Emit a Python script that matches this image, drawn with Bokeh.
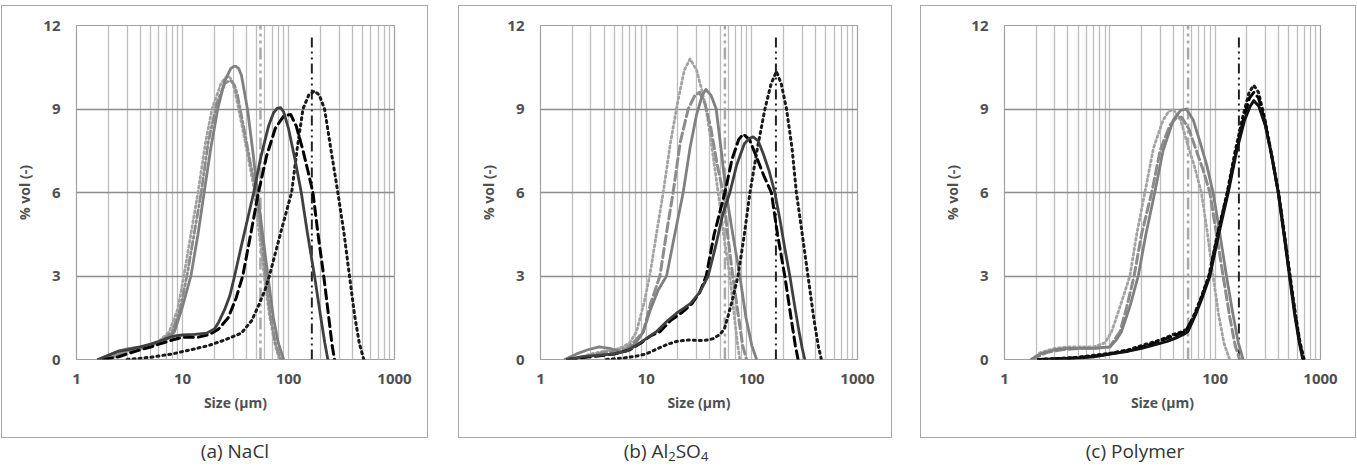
from bokeh.plotting import figure
from bokeh.models import FixedTicker, NumeralTickFormatter, Div, Spacer
from bokeh.layouts import row, column
from bokeh.embed import file_html
from bokeh.resources import INLINE

# ---------------- axes / labels ----------------
X_TICKS = [1, 10, 100, 1000]
Y_TICKS = [0, 3, 6, 9, 12]
X_GRID = [1, 2, 3, 4, 5, 6, 7, 8, 9, 10, 20, 30, 40, 50, 60, 70, 80, 90,
          100, 200, 300, 400, 500, 600, 700, 800, 900, 1000]
X_LABEL = "Size (µm)"
Y_LABEL = "% vol (-)"
SUB = '<sub style="font-size:13px;vertical-align:-3px;line-height:0;">%s</sub>'
CAPTIONS = ["(a) NaCl", "(b) Al" + SUB % "2" + "SO" + SUB % "4", "(c) Polymer"]

# ---------------- panel (a) NaCl ----------------
A_GRAY_SOLID_X = [1.6, 2, 2.5, 3, 4, 5, 6, 7, 8.4, 10, 12, 14, 16, 18.5, 21.5, 25, 28.5, 30.5, 32, 34, 36, 41, 46, 51, 57, 64, 72, 80, 90]
A_GRAY_SOLID_Y = [0, 0.15, 0.3, 0.38, 0.45, 0.52, 0.6, 0.7, 1.0, 1.9, 3.0, 4.5, 6.0, 7.6, 9.0, 10.0, 10.45, 10.53, 10.53, 10.45, 10.2, 9.0, 7.5, 6.0, 4.5, 3.0, 1.5, 0.6, 0]
A_GRAY_DOT_X = [2, 2.5, 3, 4, 5, 6, 7.5, 9, 10.3, 12, 14, 16.5, 19, 23, 25, 27, 29, 31, 36, 42, 48, 53, 59, 66, 74, 82]
A_GRAY_DOT_Y = [0, 0.15, 0.3, 0.4, 0.5, 0.65, 1.0, 1.8, 3.0, 4.5, 6.0, 7.8, 9.0, 9.9, 10.1, 10.2, 10.05, 9.7, 8.5, 7.2, 6.0, 4.5, 3.0, 1.6, 0.6, 0]
A_GRAY_DASH_X = [1.8, 2.5, 3, 4, 5, 6.5, 8, 9.5, 11, 13, 15, 17.5, 21, 25, 27, 29, 31, 33, 38, 44, 50, 55, 61, 68, 76, 85]
A_GRAY_DASH_Y = [0, 0.2, 0.3, 0.4, 0.5, 0.7, 1.0, 1.8, 3.0, 4.6, 6.0, 7.8, 9.2, 9.9, 10.0, 10.0, 9.85, 9.5, 8.3, 7.0, 6.0, 4.6, 3.0, 1.5, 0.5, 0]
A_DARK_SOLID_X = [1.6, 2, 2.5, 3, 4, 5, 6, 7, 8.5, 10, 13, 17, 20, 22, 25, 28, 31, 36, 42, 47, 55, 65, 72, 78, 84, 90, 100, 115, 132, 150, 176, 200, 220, 235]
A_DARK_SOLID_Y = [0, 0.15, 0.3, 0.35, 0.45, 0.55, 0.65, 0.75, 0.85, 0.88, 0.9, 0.95, 1.1, 1.35, 1.8, 2.3, 3.0, 4.1, 5.2, 6.0, 7.3, 8.4, 8.85, 9.02, 9.05, 8.9, 8.3, 7.2, 6.0, 4.6, 3.0, 1.6, 0.6, 0]
A_BLACK_DASH_X = [1.8, 2.5, 3, 4, 5, 6, 8, 10, 14, 18, 22, 27, 32, 37, 44, 52, 62, 75, 90, 105, 118, 135, 152, 170, 190, 215, 240, 258, 272]
A_BLACK_DASH_Y = [0, 0.1, 0.2, 0.35, 0.45, 0.55, 0.7, 0.8, 0.8, 0.9, 1.1, 1.5, 2.2, 3.0, 4.5, 6.0, 7.3, 8.3, 8.75, 8.8, 8.4, 7.6, 6.8, 6.0, 4.5, 3.0, 1.5, 0.5, 0]
A_BLACK_DOT_X = [3, 5, 8, 12, 17.5, 25, 36, 45, 53, 60, 66, 85, 107, 122, 137, 155, 176, 195, 219, 250, 292, 335, 376, 420, 465, 513]
A_BLACK_DOT_Y = [0, 0.08, 0.2, 0.35, 0.5, 0.7, 0.95, 1.4, 2.0, 2.5, 3.0, 4.6, 6.0, 7.7, 9.0, 9.5, 9.65, 9.5, 9.0, 7.6, 6.0, 4.5, 3.0, 1.6, 0.6, 0]
A_VLINE_X = [54.4, 166]
A_VLINE_TOP = [12, 11.7]

# ---------------- panel (b) Al2SO4 ----------------
B_GRAY_DOT_X = [2, 2.5, 3, 4, 5, 6, 7, 8.1, 9.5, 10.8, 12.5, 14.5, 17, 20, 23, 26, 30, 33, 37, 42, 48, 54, 62, 68, 73, 77]
B_GRAY_DOT_Y = [0, 0.1, 0.2, 0.3, 0.35, 0.45, 0.6, 1.0, 2.0, 3.0, 4.5, 6.0, 7.8, 9.3, 10.4, 10.8, 10.4, 9.8, 9.0, 7.6, 6.0, 4.5, 3.0, 1.6, 0.6, 0]
B_GRAY_DASH_X = [2, 3, 4, 5, 6.5, 8, 9.4, 11, 13.5, 15.5, 18, 21, 25, 29, 32, 36, 41, 47, 53.5, 59, 66, 75, 82, 89]
B_GRAY_DASH_Y = [0, 0.15, 0.25, 0.3, 0.4, 0.7, 1.0, 2.0, 3.0, 4.5, 6.0, 7.8, 9.0, 9.5, 9.6, 9.2, 8.3, 7.0, 6.0, 4.5, 3.0, 1.5, 0.5, 0]
B_GRAY_SOLID_X = [1.7, 2.2, 2.8, 3.6, 4.5, 5.5, 6.5, 8, 9.4, 11, 13, 15.6, 18, 22.4, 26, 30, 34, 36.7, 41, 46, 51, 57, 66, 77, 88, 100, 111]
B_GRAY_SOLID_Y = [0, 0.2, 0.35, 0.45, 0.4, 0.3, 0.3, 0.6, 1.0, 1.8, 2.5, 3.0, 4.2, 6.0, 7.6, 8.8, 9.5, 9.7, 9.5, 9.0, 7.6, 6.0, 4.5, 3.0, 1.5, 0.5, 0]
B_DARK_SOLID_X = [1.8, 2.5, 3.5, 5, 6.5, 8, 10, 12.5, 16, 20, 26, 32, 38.6, 45, 53, 62, 72, 85, 95, 103, 115, 128, 145, 165, 185, 205, 229, 255, 280, 300, 317]
B_DARK_SOLID_Y = [0, 0.1, 0.15, 0.2, 0.3, 0.5, 0.75, 1.0, 1.4, 1.7, 2.0, 2.4, 3.0, 4.0, 5.2, 6.0, 7.0, 7.75, 7.95, 8.0, 7.85, 7.4, 6.8, 6.0, 5.0, 4.0, 3.0, 1.9, 1.0, 0.4, 0]
B_BLACK_DASH_X = [1.8, 3, 5, 7, 9, 11, 13.5, 17, 22, 27, 32, 37, 44, 55.6, 65, 75, 83, 95, 110, 130, 153, 175, 205, 235, 258, 274]
B_BLACK_DASH_Y = [0, 0.1, 0.2, 0.35, 0.6, 0.85, 1.0, 1.4, 1.7, 2.0, 2.4, 3.0, 4.5, 6.0, 7.2, 7.9, 8.1, 7.9, 7.3, 6.6, 6.0, 4.5, 3.0, 1.5, 0.5, 0]
B_BLACK_DOT_X = [4.2, 6, 8, 10, 13, 16, 19.4, 25, 32, 38, 43, 50, 55, 60, 66, 74, 85, 96, 113, 133, 152, 171, 190, 213, 240, 264, 300, 340, 385, 425, 455]
B_BLACK_DOT_Y = [0, 0.05, 0.12, 0.2, 0.4, 0.55, 0.65, 0.7, 0.68, 0.7, 0.75, 0.9, 1.1, 1.6, 2.2, 3.0, 4.5, 6.0, 7.6, 9.0, 9.9, 10.35, 9.9, 9.0, 7.6, 6.0, 4.5, 3.0, 1.5, 0.5, 0]
B_VLINE_X = [55.6, 169]
B_VLINE_TOP = [12, 11.7]

# ---------------- panel (c) Polymer ----------------
C_GRAY_SOLID_X = [1.8, 2.2, 3, 4, 5, 7, 10, 11.5, 12.9, 15.5, 18.6, 22, 26.7, 32, 40, 47, 53.3, 62, 72, 83, 95.5, 110, 128, 148, 166, 184]
C_GRAY_SOLID_Y = [0, 0.2, 0.35, 0.4, 0.4, 0.4, 0.45, 0.7, 1.0, 1.9, 3.0, 4.5, 6.0, 7.5, 8.6, 8.95, 9.0, 8.6, 7.8, 7.0, 6.0, 4.6, 3.0, 1.6, 0.6, 0]
C_GRAY_DASH_X = [1.8, 2.5, 3.5, 5, 7, 10, 11, 12.5, 14.5, 17, 20, 25, 30, 37, 43, 48, 56, 65, 77, 89, 102, 119, 138, 155, 171]
C_GRAY_DASH_Y = [0, 0.25, 0.35, 0.4, 0.4, 0.45, 0.7, 1.0, 1.9, 3.0, 4.5, 6.0, 7.5, 8.4, 8.7, 8.7, 8.3, 7.6, 6.8, 6.0, 4.6, 3.0, 1.5, 0.5, 0]
C_GRAY_DOT_X = [1.8, 2.2, 3, 4, 5, 7, 9, 10.4, 12.5, 15.5, 18, 21.5, 26, 32, 36, 40, 47, 55, 64, 74, 84, 95.5, 108, 121, 137]
C_GRAY_DOT_Y = [0, 0.25, 0.4, 0.45, 0.45, 0.45, 0.6, 1.0, 1.9, 3.0, 4.5, 6.0, 7.6, 8.6, 8.9, 9.0, 8.6, 7.7, 6.9, 6.0, 4.6, 3.0, 1.6, 0.6, 0]
C_BLACK_SOLID_X = [2.1, 3, 5, 7, 10, 15, 20, 25, 35, 44, 50, 55, 65, 75, 89, 108, 133, 160, 190, 215, 233, 260, 300, 345, 397, 450, 508, 570, 630, 680]
C_BLACK_SOLID_Y = [0, 0.02, 0.05, 0.1, 0.2, 0.3, 0.4, 0.5, 0.65, 0.8, 0.9, 1.0, 1.6, 2.2, 3.0, 4.5, 6.0, 7.5, 8.6, 9.1, 9.3, 9.1, 8.4, 7.3, 6.0, 4.5, 3.0, 1.6, 0.6, 0]
C_BLACK_DOT_X = [2.1, 3, 5, 10, 15, 20, 30, 40, 48, 55, 63, 73, 87, 105, 130, 155, 185, 210, 233, 258, 298, 345, 400, 455, 515, 580, 640, 700]
C_BLACK_DOT_Y = [0, 0.03, 0.08, 0.22, 0.35, 0.5, 0.7, 0.9, 1.0, 1.1, 1.6, 2.2, 3.0, 4.5, 6.0, 7.5, 8.8, 9.6, 9.85, 9.6, 8.6, 7.3, 6.0, 4.5, 3.0, 1.6, 0.6, 0]
C_BLACK_DASH_X = [2.1, 4, 8, 15, 25, 40, 52, 64, 74, 88, 106, 131, 158, 188, 212, 233, 258, 298, 345, 398, 452, 510, 575, 635, 690]
C_BLACK_DASH_Y = [0, 0.04, 0.14, 0.32, 0.55, 0.85, 1.0, 1.6, 2.2, 3.0, 4.5, 6.0, 7.5, 8.7, 9.4, 9.6, 9.4, 8.5, 7.3, 6.0, 4.5, 3.0, 1.6, 0.6, 0]
C_VLINE_X = [55.3, 168]
C_VLINE_TOP = [12, 11.7]

# ---------------- styles ----------------
FONT = "Open Sans"
STYLE = {
    "gray_solid": dict(line_color="#808080", line_width=2.8),
    "gray_dot": dict(line_color="#a3a3a3", line_width=2.8, line_dash="2 3"),
    "gray_dashdot": dict(line_color="#8c8c8c", line_width=2.8, line_dash="8 3 2 3"),
    "gray_dash": dict(line_color="#8c8c8c", line_width=3.0, line_dash="9 4"),
    "dark_solid": dict(line_color="#404040", line_width=2.8),
    "black_solid": dict(line_color="#111111", line_width=3.0),
    "black_dash": dict(line_color="#000000", line_width=3.0, line_dash="9 5"),
    "black_dot": dict(line_color="#1a1a1a", line_width=3.0, line_dash="2 4"),
    "vgray": dict(line_color="#a8a8a8", line_width=2.5, line_dash="12 4 3 4 3 4"),
    "vblack": dict(line_color="#222222", line_width=2.0, line_dash="10 4 2 4 2 4"),
}
BOX_COLOR = "#a8a8a8"


def make_panel(series, vx, vtop, width, left, right):
    p = figure(width=width, height=433, x_axis_type="log", x_range=(1, 1000), y_range=(0, 12),
               output_backend="svg", toolbar_location=None,
               min_border_left=left, min_border_right=right, min_border_top=19, min_border_bottom=80,
               background_fill_color="white", border_fill_color="white",
               outline_line_color="#a0a0a0", outline_line_width=1.2)
    p.styles = {"border": "1.5px solid %s" % BOX_COLOR, "box-sizing": "border-box"}

    p.xgrid.ticker = FixedTicker(ticks=X_GRID)
    p.xgrid.grid_line_color = "#bdbdbd"
    p.xgrid.grid_line_width = 1.3
    p.ygrid.ticker = FixedTicker(ticks=Y_TICKS)
    p.ygrid.grid_line_color = "#8c8c8c"
    p.ygrid.grid_line_width = 1.6

    p.xaxis.ticker = FixedTicker(ticks=X_TICKS)
    p.xaxis.formatter = NumeralTickFormatter(format="0")
    p.yaxis.ticker = FixedTicker(ticks=Y_TICKS)
    p.xaxis.axis_label = X_LABEL
    p.yaxis.axis_label = Y_LABEL
    for ax in (p.xaxis, p.yaxis):
        ax.axis_line_color = None
        ax.major_tick_line_color = None
        ax.minor_tick_line_color = None
        ax.major_tick_out = 0
        ax.major_tick_in = 0
        ax.minor_tick_out = 0
        ax.minor_tick_in = 0
        ax.major_label_text_font = FONT
        ax.major_label_text_font_size = "15px"
        ax.major_label_text_font_style = "bold"
        ax.major_label_text_color = "#505050"
        ax.axis_label_text_font = FONT
        ax.axis_label_text_font_size = "14px"
        ax.axis_label_text_font_style = "bold"
        ax.axis_label_text_color = "#505050"
    p.xaxis.major_label_standoff = 14
    p.xaxis.axis_label_standoff = 6
    p.yaxis.major_label_standoff = 16
    p.yaxis.axis_label_standoff = 6

    p.line([vx[0], vx[0]], [0, vtop[0]], **STYLE["vgray"])
    p.line([vx[1], vx[1]], [0, vtop[1]], **STYLE["vblack"])

    for xs, ys, st in series:
        p.line(xs, ys, line_cap="round", line_join="round", **STYLE[st])
    return p


pa = make_panel([
    (A_GRAY_DOT_X, A_GRAY_DOT_Y, "gray_dot"),
    (A_GRAY_DASH_X, A_GRAY_DASH_Y, "gray_dashdot"),
    (A_GRAY_SOLID_X, A_GRAY_SOLID_Y, "gray_solid"),
    (A_BLACK_DOT_X, A_BLACK_DOT_Y, "black_dot"),
    (A_BLACK_DASH_X, A_BLACK_DASH_Y, "black_dash"),
    (A_DARK_SOLID_X, A_DARK_SOLID_Y, "dark_solid"),
], A_VLINE_X, A_VLINE_TOP, 427, 74, 35)

pb = make_panel([
    (B_GRAY_DOT_X, B_GRAY_DOT_Y, "gray_dot"),
    (B_GRAY_DASH_X, B_GRAY_DASH_Y, "gray_dash"),
    (B_GRAY_SOLID_X, B_GRAY_SOLID_Y, "gray_solid"),
    (B_BLACK_DOT_X, B_BLACK_DOT_Y, "black_dot"),
    (B_BLACK_DASH_X, B_BLACK_DASH_Y, "black_dash"),
    (B_DARK_SOLID_X, B_DARK_SOLID_Y, "dark_solid"),
], B_VLINE_X, B_VLINE_TOP, 434, 81, 36)

pc = make_panel([
    (C_GRAY_DOT_X, C_GRAY_DOT_Y, "gray_dot"),
    (C_GRAY_DASH_X, C_GRAY_DASH_Y, "gray_dash"),
    (C_GRAY_SOLID_X, C_GRAY_SOLID_Y, "gray_solid"),
    (C_BLACK_DOT_X, C_BLACK_DOT_Y, "black_dot"),
    (C_BLACK_DASH_X, C_BLACK_DASH_Y, "black_dash"),
    (C_BLACK_SOLID_X, C_BLACK_SOLID_Y, "black_solid"),
], C_VLINE_X, C_VLINE_TOP, 436, 83, 37)


def caption(text, width, center):
    html = ('<div style="width:220px;margin-left:%dpx;padding-top:1px;text-align:center;white-space:nowrap;'
            'font-family:\'Open Sans\';font-size:19px;color:#333333;line-height:24px;">%s</div>'
            % (center - 110, text))
    return Div(text=html, width=width, height=28, margin=0)


layout = row(
    Spacer(width=1, height=10),
    column(Spacer(width=10, height=5), pa, caption(CAPTIONS[0], 427, 234)),
    Spacer(width=30, height=10),
    column(Spacer(width=10, height=5), pb, caption(CAPTIONS[1], 434, 208)),
    Spacer(width=28, height=10),
    column(Spacer(width=10, height=5), pc, caption(CAPTIONS[2], 436, 215)),
)

open("out.html", "w").write(file_html(layout, INLINE))
